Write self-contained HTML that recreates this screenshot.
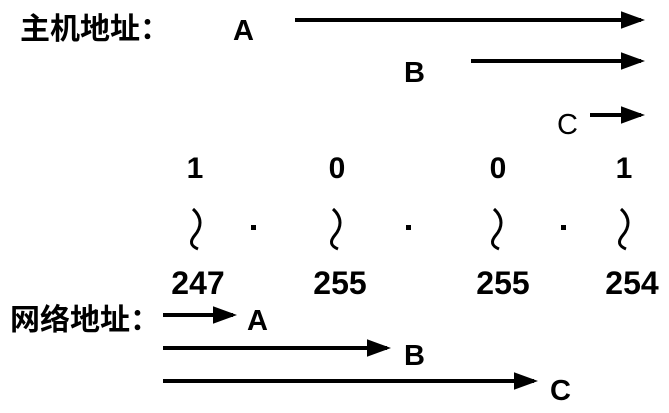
<!DOCTYPE html>
<html><head><meta charset="utf-8"><style>
body{margin:0;background:#fff}
svg text{font-family:"Liberation Sans","Noto Sans CJK SC",sans-serif;font-weight:bold;fill:#000}
.cjk{font-size:30px}
.lbl{font-size:29px}
.bit{font-size:30px}
.oct{font-size:32px}
</style></head><body>
<svg width="669" height="408" viewBox="0 0 669 408">
<defs><marker id="ah" markerWidth="6" markerHeight="6" refX="5" refY="3" orient="auto" markerUnits="strokeWidth"><path d="M0,0.8 L6,3 L0,5.2 Z" fill="#000"/></marker></defs>
<g>
<text class="cjk" x="20" y="39">主机地址：</text>
<text class="lbl" x="233" y="40">A</text>
<line x1="295" y1="20" x2="641" y2="20" stroke="#000" stroke-width="4" marker-end="url(#ah)"/>
<text class="lbl" x="404" y="82">B</text>
<line x1="471" y1="61" x2="641" y2="61" stroke="#000" stroke-width="4" marker-end="url(#ah)"/>
<text class="lbl" x="557" y="134" style="font-weight:normal">C</text>
<line x1="590" y1="115" x2="641" y2="115" stroke="#000" stroke-width="4" marker-end="url(#ah)"/>
</g>
<g text-anchor="middle">
<text class="bit" x="195" y="178">1</text>
<text class="bit" x="337" y="178">0</text>
<text class="bit" x="498" y="178">0</text>
<text class="bit" x="624" y="178">1</text>
</g>
<g fill="none" stroke="#000" stroke-width="3">
<path d="M193,209 C203,218 201,228 195,235 C189,242 191,246 198,249"/>
<path d="M333,209 C343,218 341,228 335,235 C329,242 331,246 338,249"/>
<path d="M494,209 C504,218 502,228 496,235 C490,242 492,246 499,249"/>
<path d="M621,209 C631,218 629,228 623,235 C617,242 619,246 626,249"/>
</g>
<g fill="#000">
<rect x="251" y="225" width="5" height="5"/>
<rect x="406" y="225" width="5" height="5"/>
<rect x="561" y="225" width="5" height="5"/>
</g>
<g text-anchor="middle">
<text class="oct" x="198" y="294">247</text>
<text class="oct" x="340" y="294">255</text>
<text class="oct" x="503" y="294">255</text>
<text class="oct" x="632" y="294">254</text>
</g>
<g>
<text class="cjk" x="10" y="330">网络地址：</text>
<line x1="163" y1="315" x2="233" y2="315" stroke="#000" stroke-width="4" marker-end="url(#ah)"/>
<text class="lbl" x="247" y="330">A</text>
<line x1="163" y1="348" x2="387" y2="348" stroke="#000" stroke-width="4" marker-end="url(#ah)"/>
<text class="lbl" x="404" y="365">B</text>
<line x1="163" y1="381" x2="534" y2="381" stroke="#000" stroke-width="4" marker-end="url(#ah)"/>
<text class="lbl" x="550" y="400">C</text>
</g>
</svg>
</body></html>
